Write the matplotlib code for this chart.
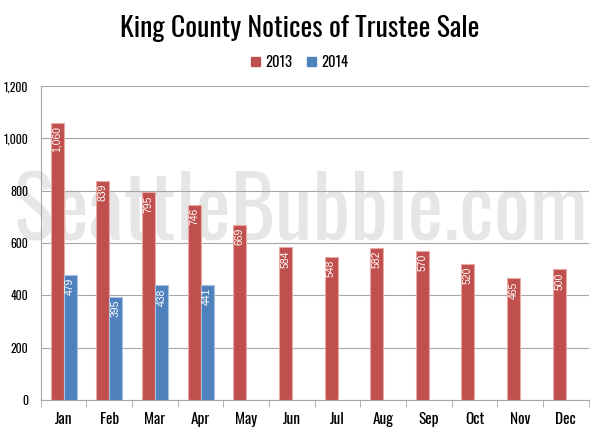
import matplotlib
matplotlib.use("Agg")
import matplotlib.pyplot as plt
import numpy as np
from matplotlib.ticker import FuncFormatter, FixedLocator
from matplotlib.patches import Patch

months = ["Jan", "Feb", "Mar", "Apr", "May", "Jun", "Jul", "Aug", "Sep", "Oct", "Nov", "Dec"]
sales_2013 = [1060, 839, 795, 746, 669, 584, 548, 582, 570, 520, 465, 500]
sales_2014 = [479, 395, 438, 441]

RED = "#C0504D"
BLUE = "#4F81BD"
FONT = ["Oswald", "Barlow Condensed", "DejaVu Sans"]

plt.rcParams["font.family"] = FONT

fig = plt.figure(figsize=(6.0, 4.36), dpi=100)
ax = fig.add_axes([0.068, 0.0826, 0.913, 0.720])

x = np.arange(len(months))
w = 0.285

# watermark, behind the bars and grid
ax.text(0.502, 0.449, "SeattleBubble.com", ha="center", va="baseline", transform=fig.transFigure,
        fontsize=61, color="#e6e6e6", fontweight="bold", zorder=0.5, clip_on=False)

b13 = ax.bar(x - w / 2, sales_2013, w, color=RED, edgecolor="#e8a9a7", linewidth=0.8, zorder=3)
b14 = ax.bar(x[:len(sales_2014)] + w / 2, sales_2014, w, color=BLUE, edgecolor="#a9c1e0",
             linewidth=0.8, zorder=3)

for bars in (b13, b14):
    for rect in bars:
        h = rect.get_height()
        ax.text(rect.get_x() + rect.get_width() / 2, h - 12, f"{int(h):,}",
                ha="center", va="top", rotation=90, color="white", fontsize=7.5,
                family=["Liberation Sans", "DejaVu Sans"], zorder=4)

ax.set_xlim(-0.5, len(months) - 0.5)
ax.set_ylim(0, 1200)
ax.set_yticks(range(0, 1201, 200))
ax.yaxis.set_major_formatter(FuncFormatter(lambda v, p: f"{int(v):,}"))
ax.yaxis.grid(True, color="#a6a6a6", linewidth=0.8, zorder=1)
ax.set_axisbelow(True)

ax.set_xticks(x)
ax.set_xticklabels(months, fontsize=11, fontweight="bold")
ax.xaxis.set_minor_locator(FixedLocator(np.arange(-0.5, len(months), 1.0)))
ax.tick_params(axis="x", which="major", length=0, pad=9)
ax.tick_params(axis="x", which="minor", length=5, color="#a6a6a6")
ax.tick_params(axis="y", length=0, labelsize=8.5, pad=9)
for lbl in ax.get_yticklabels():
    lbl.set_fontweight("bold")

for s in ("top", "right"):
    ax.spines[s].set_visible(False)
for s in ("left", "bottom"):
    ax.spines[s].set_color("#a6a6a6")
    ax.spines[s].set_linewidth(0.8)

fig.text(0.5, 0.935, "King County Notices of Trustee Sale", ha="center", va="center",
         fontsize=20, fontweight="medium")
handles = [Patch(color=RED, label="2013"), Patch(color=BLUE, label="2014")]
fig.legend(handles=handles, loc="center", bbox_to_anchor=(0.5, 0.857), ncol=2, frameon=False,
           fontsize=10.5, handlelength=0.6, handleheight=0.6, handletextpad=0.4, columnspacing=1.0)

fig.savefig("out.png", dpi=100)
